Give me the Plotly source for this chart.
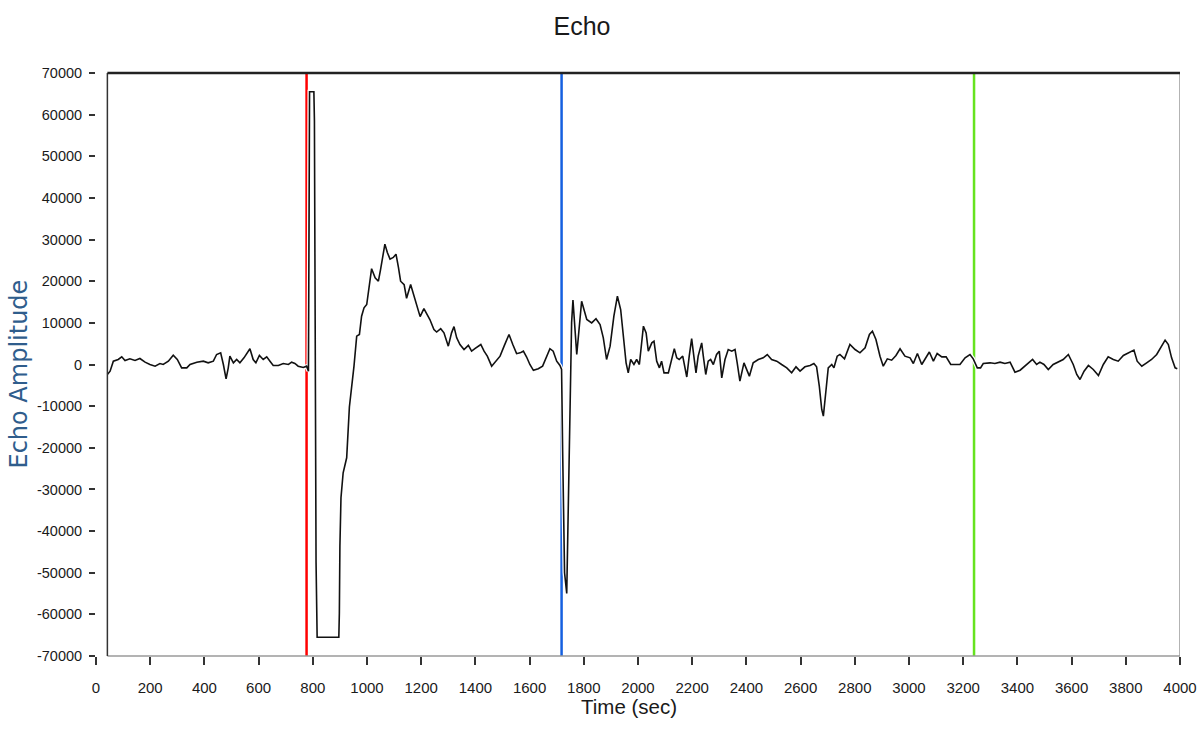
import plotly.graph_objects as go

# ---- data ----
time_s = [42, 52, 64, 82, 95, 107, 125, 144, 162, 181, 199, 218, 236, 248, 267, 285, 300, 316, 335, 347,
          372, 396, 414, 433, 445, 460, 470, 480, 488, 494, 507, 519, 531, 546, 568, 580, 590, 603, 617, 630,
          642, 654, 673, 691, 710, 722, 734, 746, 765, 777, 784,
          788, 804, 806, 812, 816, 896, 898, 900, 904, 912, 925, 935, 943, 952,
          962, 972, 980, 989, 999, 1008, 1017, 1030, 1042, 1050, 1060, 1066, 1075, 1085, 1097, 1107, 1116, 1124,
          1137, 1146, 1161, 1173, 1183, 1196, 1210, 1222, 1232, 1247, 1257, 1272, 1284, 1300, 1312, 1321, 1331,
          1343, 1358, 1374, 1386, 1398, 1420, 1432, 1444, 1460, 1476, 1491, 1507, 1524, 1538, 1552, 1565, 1577,
          1589, 1601, 1614, 1632, 1648, 1661, 1675, 1687, 1700, 1712, 1718,
          1722, 1725, 1729, 1737, 1743, 1749, 1755, 1760, 1774, 1792, 1811, 1829, 1845, 1860, 1872, 1884, 1897,
          1911, 1924, 1936, 1946, 1956, 1964, 1973, 1985, 1995, 2005, 2020, 2030, 2038, 2051, 2059, 2069, 2079,
          2087, 2096, 2112, 2124, 2134, 2143, 2152, 2165, 2180, 2189, 2198, 2206, 2214, 2222, 2235, 2241, 2250,
          2259, 2268, 2278, 2290, 2300, 2309, 2321, 2333, 2346, 2358, 2366, 2376, 2391, 2401, 2411, 2425, 2444,
          2462, 2477, 2493, 2512, 2530, 2549, 2567, 2583, 2598, 2616, 2635, 2649, 2659, 2669, 2678, 2684, 2694,
          2702, 2715, 2723, 2735,
          2745, 2762, 2782, 2801, 2819, 2838, 2854, 2865, 2878, 2893, 2905, 2920, 2936, 2952, 2967, 2985, 3004,
          3016, 3031, 3047, 3063, 3075, 3090, 3104, 3121, 3137, 3154, 3170, 3188, 3207, 3225, 3237, 3252, 3264,
          3274, 3299, 3317, 3336, 3354, 3373, 3391, 3410, 3428, 3444, 3456, 3471, 3483, 3498, 3514, 3532, 3551,
          3569, 3588, 3606, 3619, 3631, 3646, 3662, 3680, 3699, 3717, 3735, 3754, 3772, 3791, 3806, 3815, 3830,
          3842, 3859, 3877, 3895, 3914, 3929, 3945, 3957, 3969, 3982, 3990]

echo_amp = [-2400, -1600, 800, 1200, 1850, 960, 1360, 960, 1440, 560, 0, -400, 240, 0, 800, 2240, 1200, -800, -800, 0,
            560, 800, 400, 800, 2400, 2800, 0, -3450, -800, 2000, 400, 1200, 400, 1600, 3770, 1200, 400, 2160, 1200, 1850,
            800, -240, -240, 240, 0, 560, 240, -400, -720, -400, -1600,
            65500, 65500, 58500, -47500, -65500, -65500, -59700, -43700, -32000, -26000, -22400, -10200, -6000, -400,
            6800, 7200, 11600, 13600, 14400, 18800, 23000, 20800, 20000, 22800, 26900, 28900, 26900, 25300, 25700, 26500, 23300, 20000,
            19200, 15900, 19200, 16400, 14000, 11500, 13400, 12000, 10800, 8400, 7800, 8600, 7600, 4400, 7600, 9100, 6400,
            4800, 3600, 4600, 3200, 3800, 4800, 3200, 2000, -400, 800, 2000, 4600, 7200, 4800, 2600, 2800, 3200,
            1800, 0, -1400, -1000, -400, 1600, 3800, 3200, 800, -240, -1200,
            -21000, -41000, -50000, -55000, -30800, -6700, 10100, 15500, 2400, 15200, 10800, 10000, 11000, 9600, 6400, 1200, 4400,
            11600, 16400, 13200, 6000, 400, -2000, 1200, 0, 1200, 0, 9200, 7600, 3200, 5200, 5600, 800, -800,
            800, -2000, -2000, 1200, 3800, 1600, 1200, 2000, -3000, 2000, 6200, 2000, -2000, 2000, 5200, 2000, -2400,
            800, 1200, 0, 2400, 3200, -3200, 1200, 3600, 3200, 3600, 400, -4000, 400, -1200, -2800, 400, 1200,
            1600, 2400, 1200, 800, 0, -800, -2000, -560, -1600, -560, -240, 240, -560, -5200, -10800, -12400, -6000,
            -800, 0, -800, 2000,
            2400, 1360, 4800, 3600, 2800, 4000, 7200, 8000, 6000, 2000, -400, 1360, 1040, 2160, 3760, 2000, 1600,
            240, 2640, 0, 1600, 3000, 800, 2640, 1840, 1840, 0, 0, 0, 1600, 2400, 1360, -800, -800,
            240, 400, 240, 560, 240, 560, -1850, -1370, -400, 400, 1200, 0, 560, 0, -1200, 0, 560,
            1200, 2400, 0, -2400, -3600, -1600, -240, -1200, -2640, 0, 1840, 1200, 800, 2160, 2640, 3000, 3450,
            800, -400, 400, 1200, 2400, 4000, 5850, 4800, 1600, -800, -1000]

cursor_times = [777, 1718, 3240]
cursor_colors = ["#ff0000", "#1560e0", "#66e31f"]

x_ticks = list(range(0, 4001, 200))
y_ticks = [70000, 60000, 50000, 40000, 30000, 20000, 10000, 0,
           -10000, -20000, -30000, -40000, -50000, -60000, -70000]
y_tick_labels = ["70000", "60000", "50000", "40000", "30000", "20000", "10000", "0",
                 "-10000", "-20000", "-30000", "-40000", "-50000", "-60000", "-70000"]

x_start = time_s[0]
x_end = 4000

FONT = "Liberation Sans, Arial, sans-serif"

fig = go.Figure()
# white halo under the trace (visible where it crosses cursors)
fig.add_trace(go.Scatter(x=time_s, y=echo_amp, mode="lines",
                         line=dict(color="white", width=4), hoverinfo="skip", showlegend=False))
fig.add_trace(go.Scatter(x=time_s, y=echo_amp, mode="lines",
                         line=dict(color="#111111", width=1.6), showlegend=False))

shapes = []
for t, c in zip(cursor_times, cursor_colors):
    shapes.append(dict(type="line", xref="x", yref="paper", x0=t, x1=t, y0=0, y1=1,
                       line=dict(color=c, width=2.5), layer="below"))
# frame of the plot area
shapes.append(dict(type="line", xref="x", yref="paper", x0=x_start, x1=x_end, y0=0, y1=0,
                   line=dict(color="#9a9a9a", width=1.5)))
shapes.append(dict(type="line", xref="x", yref="paper", x0=x_end, x1=x_end, y0=0, y1=1,
                   line=dict(color="#9a9a9a", width=1.5)))
shapes.append(dict(type="line", xref="x", yref="paper", x0=x_start, x1=x_start, y0=0, y1=1,
                   line=dict(color="#333333", width=1.5)))
shapes.append(dict(type="line", xref="x", yref="paper", x0=x_start, x1=x_end, y0=1, y1=1,
                   line=dict(color="#222222", width=2.5)))

fig.update_layout(
    width=1200, height=746,
    margin=dict(l=96, r=20, t=73, b=90),
    paper_bgcolor="white", plot_bgcolor="white",
    title=dict(text="Echo", x=0.485, xanchor="center", y=1 - 26 / 746, yanchor="middle",
               font=dict(family=FONT, size=25, color="#1a1a1a")),
    shapes=shapes,
    xaxis=dict(range=[0, 4000], tickvals=x_ticks, ticks="outside", ticklen=8, tickwidth=1.5,
               tickcolor="#333333", showline=False, showgrid=False, zeroline=False,
               ticklabelstandoff=10, automargin=False,
               tickfont=dict(family=FONT, size=15, color="#1a1a1a")),
    yaxis=dict(range=[-70000, 70000], tickvals=y_ticks, ticktext=y_tick_labels, ticks="outside",
               ticklen=6, tickwidth=1.5, tickcolor="#333333", showline=False, showgrid=False,
               zeroline=False, ticklabelstandoff=4, automargin=False,
               tickfont=dict(family=FONT, size=14.5, color="#1a1a1a")),
    annotations=[
        dict(text="Time (sec)", xref="paper", yref="paper", x=(629 - 96) / 1084, y=-(706 - 656) / 582,
             xanchor="center", yanchor="middle", showarrow=False,
             font=dict(family=FONT, size=20.5, color="#1a1a1a")),
        dict(text="Echo Amplitude", xref="paper", yref="paper", x=-(96 - 19) / 1084, y=(656 - 375) / 582,
             xanchor="center", yanchor="middle", textangle=-90, showarrow=False,
             font=dict(family="DejaVu Sans", size=24, color="#2f5d8c")),
    ],
)

fig.write_html("out.html", config={"displayModeBar": False},
               post_script="document.body.style.margin='0px';document.body.style.overflow='hidden';")
